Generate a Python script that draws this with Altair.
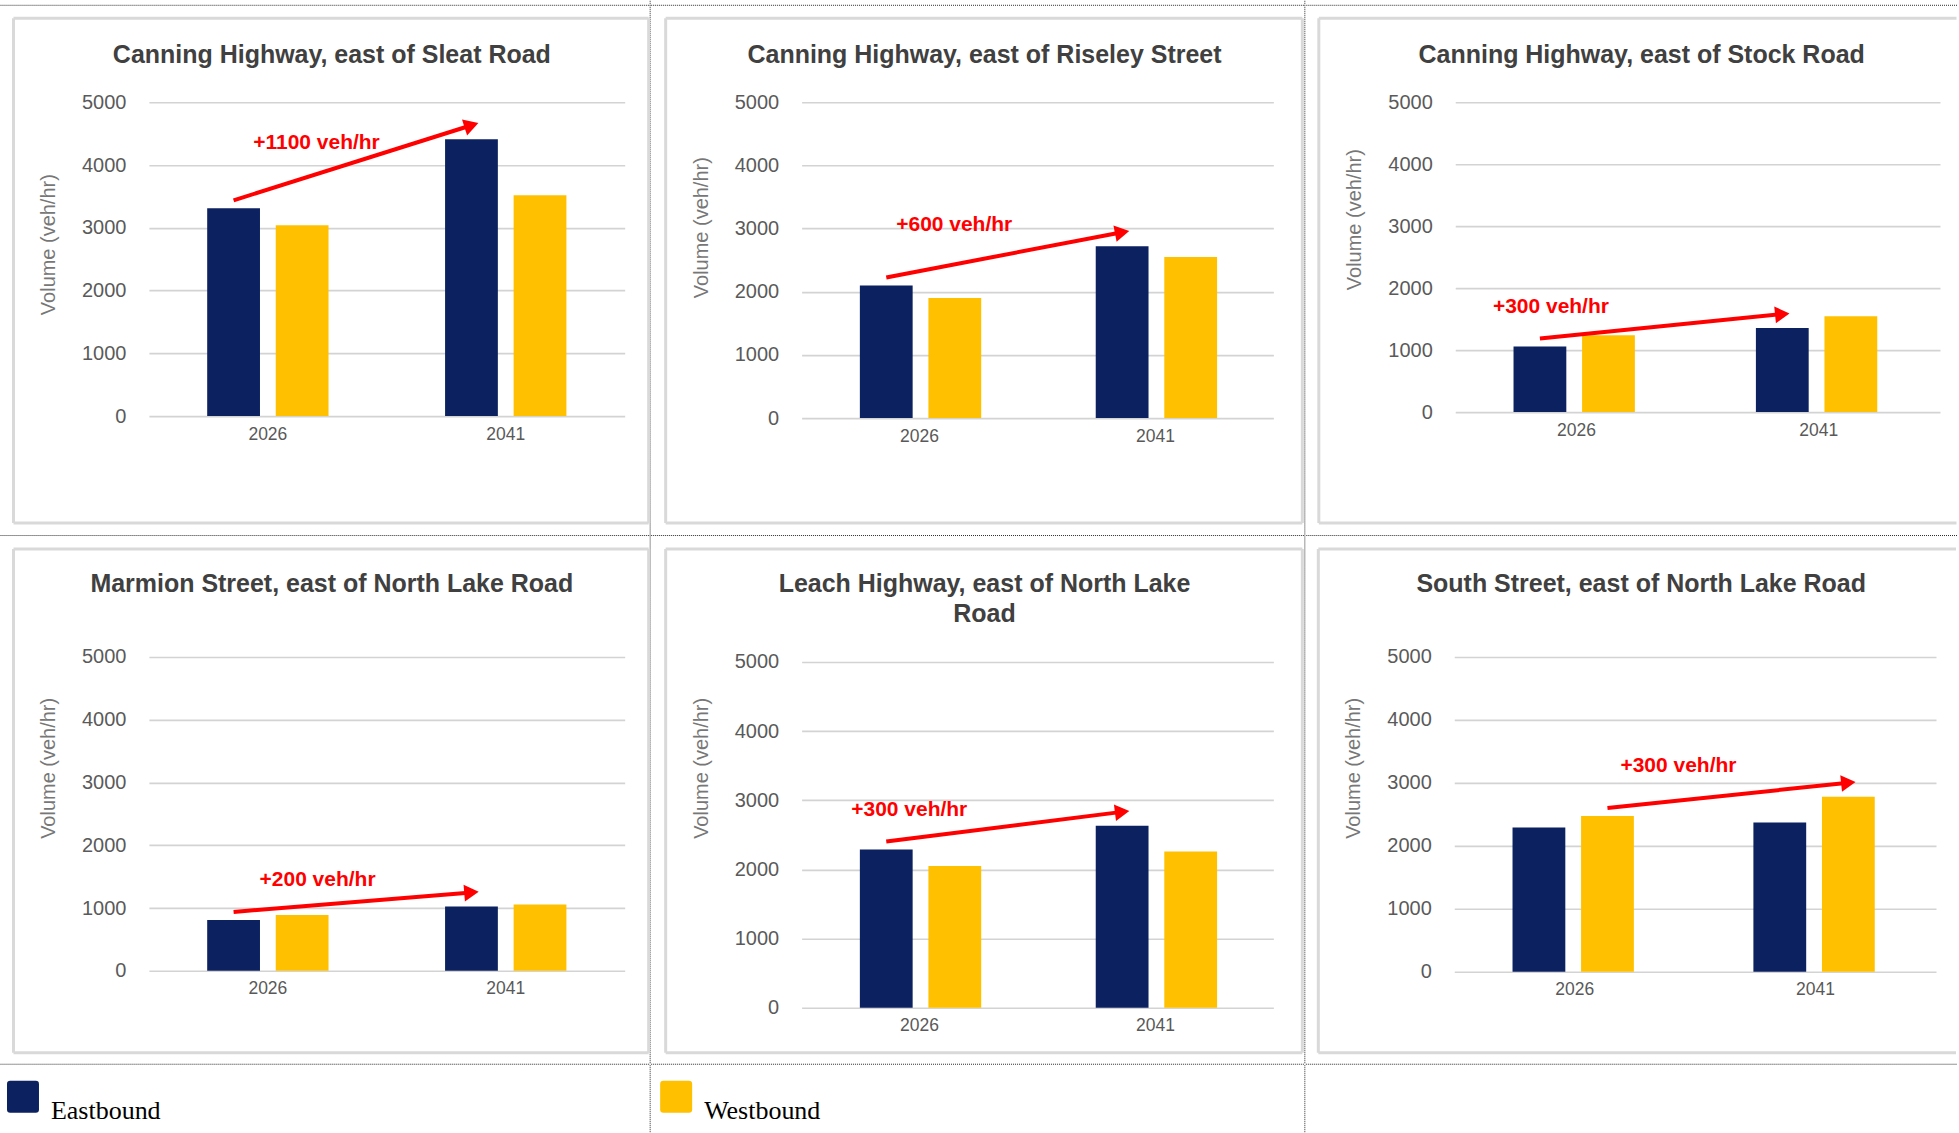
import math

import altair as alt
import pandas as pd

# ---------------------------------------------------------------- data
titles = [
    ["Canning Highway, east of Sleat Road"],
    ["Canning Highway, east of Riseley Street"],
    ["Canning Highway, east of Stock Road"],
    ["Marmion Street, east of North Lake Road"],
    ["Leach Highway, east of North Lake", "Road"],
    ["South Street, east of North Lake Road"],
]
years = ["2026", "2041"]
directions = ["Eastbound", "Westbound"]

eastbound_2026 = [3310, 2100, 1060, 810, 2290, 2290]
eastbound_2041 = [4410, 2720, 1355, 1025, 2630, 2370]
westbound_2026 = [3040, 1900, 1240, 890, 2050, 2475]
westbound_2041 = [3520, 2550, 1545, 1055, 2260, 2780]

growth_labels = ["+1100 veh/hr", "+600 veh/hr", "+300 veh/hr",
                 "+200 veh/hr", "+300 veh/hr", "+300 veh/hr"]
growth_direction = ["Eastbound"] * 5 + ["Westbound"]

y_ticks = [0, 1000, 2000, 3000, 4000, 5000]

# ---------------------------------------------------------------- styling
NAVY = "#0b2160"
GOLD = "#ffc000"
LEGEND_NAVY = "#1b3178"
RED = "#ff0000"
SANS = "Liberation Sans"
NARROW = "Liberation Sans Narrow, Liberation Sans, sans-serif"

COL_W = [651, 655, 653]
ROW_H = [536, 529]
LEGEND_H = 68

# plot-area origin inside each table cell, plot size (h = 0..5000 span,
# top = empty band above 5000), y-title centre, and where the growth
# label sits relative to the 2026 bar top
panel_geom = [
    dict(px=149, py=102, w=476, h=314, top=0, ytitle=142, lab=(83, -65)),
    dict(px=151, py=102, w=472, h=316, top=0, ytitle=125, lab=(68, -60)),
    dict(px=149.5, py=102, w=485, h=310, top=0, ytitle=117, lab=(11, -39)),
    dict(px=149, py=121, w=476, h=314, top=0, ytitle=111, lab=(84, -40)),
    dict(px=151, py=121, w=472, h=346, top=5, ytitle=111, lab=(23, -39)),
    dict(px=149, py=121, w=482, h=315, top=0, ytitle=111, lab=(71, -50)),
]
box_x = [(13.5, 649), (15, 652), (13, None)]
box_y = [(18, 523), (13, 517)]
title_x = [332, 334, 336]
title_rows_y = [55, 48]
TITLE_LINE = 30

dotted = dict(color="#2b2b2b", strokeWidth=1, strokeDash=[1, 1])
box_edge = dict(color="#d9d9d9", strokeWidth=3)

one = pd.DataFrame({"k": [0]})


def x_enc():
    return alt.X(
        "year:N", sort=years,
        scale=alt.Scale(type="band", domain=years, paddingInner=0, paddingOuter=0),
        axis=alt.Axis(title=None, labelAngle=0, domain=False, ticks=False,
                      labelPadding=9, labelFontSize=17.5, labelFont=NARROW,
                      labelColor="#595959"),
    )


def xo_enc():
    return alt.XOffset(
        "direction:N", sort=directions,
        scale=alt.Scale(type="band", domain=directions,
                        paddingInner=0.23, paddingOuter=0.85),
    )


def y_enc(g):
    return alt.Y(
        "value:Q",
        scale=alt.Scale(domain=[0, 5000], nice=False, zero=True,
                        range=[g["h"] + g["top"], g["top"]]),
        axis=alt.Axis(values=y_ticks, format="d", title="Volume (veh/hr)",
                      domain=False, ticks=False, grid=True, gridColor="#d3d3d3",
                      gridWidth=1.6, labelFont=SANS, labelFontSize=20,
                      labelColor="#5a5a5a", labelPadding=23, titleFont=SANS,
                      titleFontSize=20, titleFontWeight="normal",
                      titleColor="#777777", titlePadding=23, titleY=g["ytitle"]),
    )


def deco_rule(x1, y1, x2, y2, px, py, style):
    return alt.Chart(one).mark_rule(**style).encode(
        x=alt.value(x1 - px), y=alt.value(y1 - py),
        x2=alt.value(x2 - px), y2=alt.value(y2 - py),
    )


def panel(i):
    r, c = divmod(i, 3)
    g = panel_geom[i]
    cw, ch = COL_W[c], ROW_H[r]
    px, py, w, h = g["px"], g["py"], g["w"], g["h"]

    layers = []

    # cell extent (keeps the table grid exact)
    layers.append(
        alt.Chart(one).mark_rect(opacity=0).encode(
            x=alt.value(-px), x2=alt.value(cw - px),
            y=alt.value(-py), y2=alt.value(ch - py),
        )
    )

    # dotted table lines
    if r == 0:
        layers.append(deco_rule(0.5, 5, cw - 0.5, 5, px, py, dotted))
    layers.append(deco_rule(0.5, ch - 0.5, cw - 0.5, ch - 0.5, px, py, dotted))
    if c < 2:
        layers.append(deco_rule(cw - 0.5, 0.5, cw - 0.5, ch - 0.5, px, py, dotted))

    # chart frame
    bx0, bx1 = box_x[c]
    by0, by1 = box_y[r]
    right = bx1 if bx1 is not None else cw - 2
    layers.append(deco_rule(bx0, by0, bx0, by1, px, py, box_edge))
    layers.append(deco_rule(bx0, by0, right, by0, px, py, box_edge))
    layers.append(deco_rule(bx0, by1, right, by1, px, py, box_edge))
    if bx1 is not None:
        layers.append(deco_rule(bx1, by0, bx1, by1, px, py, box_edge))

    # title
    for k, line in enumerate(titles[i]):
        ty = title_rows_y[r] + k * TITLE_LINE
        layers.append(
            alt.Chart(one).mark_text(
                text=line, font=SANS, fontSize=25, fontWeight="bold",
                color="#404040", align="center", baseline="middle",
            ).encode(x=alt.value(title_x[c] - px), y=alt.value(ty - py))
        )

    # bars
    bars_df = pd.DataFrame({
        "year": years * 2,
        "direction": [directions[0]] * 2 + [directions[1]] * 2,
        "value": [eastbound_2026[i], eastbound_2041[i],
                  westbound_2026[i], westbound_2041[i]],
    })
    layers.append(
        alt.Chart(bars_df).mark_bar().encode(
            x=x_enc(), xOffset=xo_enc(), y=y_enc(g),
            color=alt.Color("direction:N",
                            scale=alt.Scale(domain=directions, range=[NAVY, GOLD]),
                            legend=None),
        )
    )

    # growth arrow between the two years
    d = growth_direction[i]
    if d == "Eastbound":
        v0, v1 = eastbound_2026[i], eastbound_2041[i]
    else:
        v0, v1 = westbound_2026[i], westbound_2041[i]
    per_px = 5000 / h
    arrow_df = pd.DataFrame({
        "year": years,
        "direction": [d, d],
        "value": [v0 + 8 * per_px, v1 + 14 * per_px],
    })
    rise_px = (arrow_df["value"][1] - arrow_df["value"][0]) / per_px
    theta = math.degrees(math.atan2(rise_px, w / 2))
    layers.append(
        alt.Chart(arrow_df).mark_line(color=RED, strokeWidth=4).encode(
            x=x_enc(), xOffset=xo_enc(), y=y_enc(g),
        )
    )
    layers.append(
        alt.Chart(arrow_df.iloc[[1]]).mark_point(
            shape="triangle-right", filled=True, size=280, color=RED,
            opacity=1, angle=360 - theta,
        ).encode(x=x_enc(), xOffset=xo_enc(), y=y_enc(g))
    )

    label_df = pd.DataFrame({
        "year": [years[0]], "direction": [d], "value": [v0],
        "label": [growth_labels[i]],
    })
    layers.append(
        alt.Chart(label_df).mark_text(
            font=SANS, fontSize=21, fontWeight="bold", color=RED,
            align="center", baseline="middle", dx=g["lab"][0], dy=g["lab"][1],
        ).encode(x=x_enc(), xOffset=xo_enc(), y=y_enc(g), text="label:N")
    )

    return alt.layer(*layers).properties(width=w, height=h + g["top"])


# ---------------------------------------------------------------- legend row
# the legend view shares its origin with the first column's plot area so the
# stacked rows line up
LX = panel_geom[0]["px"]
TOTAL_W = sum(COL_W)
ROUNDED_SQUARE = ("M -1 -0.8 Q -1 -1 -0.8 -1 L 0.8 -1 Q 1 -1 1 -0.8 L 1 0.8 "
                  "Q 1 1 0.8 1 L -0.8 1 Q -1 1 -1 0.8 Z")
legend_df = pd.DataFrame({"direction": directions})
legend_x = alt.X("direction:N", sort=directions,
                 scale=alt.Scale(type="point", domain=directions,
                                 range=[23 - LX, 676.5 - LX], padding=0),
                 axis=None)


def legend_rule(xpos):
    return alt.Chart(one).mark_rule(**dotted).encode(
        x=alt.value(xpos - LX), x2=alt.value(xpos - LX),
        y=alt.value(0.5), y2=alt.value(LEGEND_H - 0.5),
    )


legend_row = alt.layer(
    alt.Chart(one).mark_rect(opacity=0).encode(
        x=alt.value(-LX), x2=alt.value(TOTAL_W - LX),
        y=alt.value(0), y2=alt.value(LEGEND_H),
    ),
    legend_rule(COL_W[0] - 0.5),
    legend_rule(COL_W[0] + COL_W[1] - 0.5),
    alt.Chart(legend_df).mark_point(
        shape=ROUNDED_SQUARE, filled=True, size=1024, opacity=1,
    ).encode(
        x=legend_x, y=alt.value(32),
        color=alt.Color("direction:N",
                        scale=alt.Scale(domain=directions, range=[LEGEND_NAVY, GOLD]),
                        legend=None),
    ),
    alt.Chart(legend_df).mark_text(
        align="left", baseline="alphabetic", dx=28, font="Liberation Serif",
        fontSize=26, color="#000000",
    ).encode(x=legend_x, y=alt.value(54), text="direction:N"),
).properties(width=TOTAL_W - LX, height=LEGEND_H)

row1 = alt.hconcat(panel(0), panel(1), panel(2), spacing=0)
row2 = alt.hconcat(panel(3), panel(4), panel(5), spacing=0)

chart = (
    alt.vconcat(row1, row2, legend_row, spacing=0)
    .properties(padding=0, background="white")
    .configure_view(strokeWidth=0)
)

chart.save("out.html", embed_options={"renderer": "svg", "actions": False})
